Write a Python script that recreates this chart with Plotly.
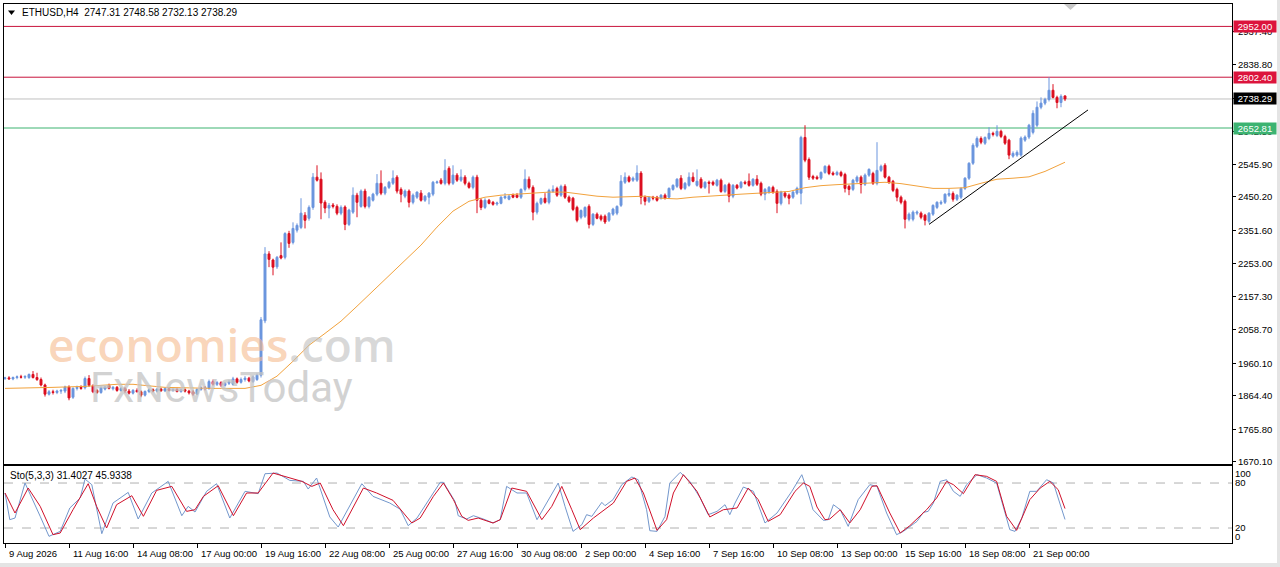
import plotly.graph_objects as go

# ---------------- data ----------------
bar_index = list(range(266))

opens = [
 1915, 1917, 1914, 1918, 1920, 1919, 1918, 1927, 1918, 1912,
 1896, 1869, 1876, 1874, 1878, 1878, 1890, 1860, 1886, 1889,
 1888, 1915, 1893, 1880, 1874, 1884, 1895, 1885, 1889, 1880,
 1886, 1878, 1872, 1880, 1876, 1866, 1877, 1882, 1878, 1884,
 1879, 1885, 1880, 1883, 1877, 1882, 1878, 1876, 1869, 1883,
 1888, 1886, 1906, 1898, 1903, 1895, 1901, 1898, 1914, 1904,
 1912, 1916, 1906, 1912, 1925, 2085, 2282, 2264, 2244, 2277,
 2272, 2342, 2316, 2352, 2360, 2396, 2387, 2419, 2508, 2502,
 2434, 2417, 2426, 2422, 2402, 2420, 2369, 2405, 2455, 2422,
 2467, 2422, 2440, 2458, 2490, 2461, 2478, 2490, 2508, 2472,
 2452, 2467, 2434, 2449, 2461, 2440, 2449, 2458, 2492, 2499,
 2490, 2534, 2490, 2514, 2499, 2508, 2490, 2478, 2508, 2440,
 2419, 2440, 2434, 2429, 2431, 2447, 2443, 2455, 2455, 2449,
 2472, 2502, 2478, 2405, 2431, 2446, 2434, 2466, 2475, 2455,
 2481, 2449, 2446, 2419, 2390, 2393, 2422, 2369, 2399, 2393,
 2393, 2381, 2399, 2402, 2425, 2493, 2508, 2499, 2499, 2520,
 2449, 2437, 2449, 2449, 2446, 2455, 2449, 2472, 2481, 2505,
 2475, 2484, 2508, 2484, 2502, 2478, 2493, 2493, 2484, 2499,
 2466, 2487, 2452, 2484, 2478, 2493, 2496, 2484, 2502, 2490,
 2458, 2464, 2478, 2466, 2431, 2461, 2455, 2449, 2461, 2461,
 2625, 2560, 2510, 2508, 2505, 2522, 2540, 2520, 2516, 2522,
 2516, 2481, 2472, 2496, 2508, 2487, 2514, 2519, 2490, 2528,
 2543, 2508, 2496, 2472, 2449, 2437, 2384, 2384, 2402, 2402,
 2396, 2378, 2399, 2419, 2431, 2434, 2455, 2460, 2443, 2449,
 2475, 2505, 2549, 2599, 2622, 2608, 2622, 2637, 2631, 2643,
 2628, 2617, 2570, 2573, 2573, 2617, 2626, 2640, 2661, 2714,
 2726, 2737, 2764, 2743, 2728, 2747.31]

highs = [
 1920, 1922, 1921, 1924, 1926, 1925, 1930, 1937, 1932, 1918,
 1900, 1881, 1882, 1882, 1884, 1894, 1895, 1889, 1894, 1895,
 1921, 1925, 1898, 1884, 1892, 1893, 1900, 1893, 1893, 1890,
 1890, 1884, 1884, 1886, 1880, 1880, 1886, 1886, 1886, 1888,
 1888, 1889, 1886, 1888, 1885, 1886, 1882, 1882, 1886, 1892,
 1893, 1912, 1912, 1908, 1907, 1905, 1910, 1920, 1918, 1918,
 1922, 1920, 1924, 1930, 2096, 2302, 2290, 2268, 2276, 2316,
 2346, 2350, 2375, 2372, 2446, 2405, 2425, 2520, 2543, 2522,
 2440, 2432, 2432, 2428, 2425, 2425, 2415, 2478, 2462, 2472,
 2474, 2452, 2462, 2517, 2528, 2482, 2497, 2528, 2514, 2478,
 2472, 2472, 2460, 2466, 2470, 2455, 2464, 2497, 2498, 2505,
 2561, 2540, 2543, 2520, 2531, 2514, 2495, 2513, 2515, 2446,
 2446, 2444, 2438, 2436, 2452, 2461, 2456, 2460, 2461, 2475,
 2531, 2510, 2484, 2436, 2448, 2461, 2474, 2484, 2480, 2486,
 2487, 2454, 2450, 2424, 2413, 2422, 2428, 2402, 2404, 2398,
 2398, 2405, 2418, 2425, 2514, 2522, 2513, 2510, 2543, 2526,
 2454, 2452, 2453, 2453, 2458, 2460, 2478, 2487, 2505, 2514,
 2494, 2522, 2522, 2531, 2508, 2496, 2498, 2498, 2503, 2504,
 2488, 2492, 2488, 2488, 2497, 2498, 2519, 2505, 2514, 2495,
 2476, 2482, 2483, 2472, 2468, 2466, 2460, 2468, 2480, 2630,
 2661, 2566, 2515, 2513, 2525, 2543, 2545, 2525, 2527, 2527,
 2521, 2486, 2503, 2513, 2513, 2519, 2534, 2524, 2611, 2545,
 2549, 2512, 2500, 2477, 2454, 2442, 2404, 2410, 2410, 2407,
 2400, 2405, 2428, 2437, 2440, 2460, 2475, 2466, 2458, 2478,
 2508, 2552, 2608, 2628, 2628, 2628, 2655, 2642, 2661, 2648,
 2633, 2621, 2584, 2587, 2628, 2631, 2665, 2705, 2731, 2743,
 2742, 2802, 2782, 2748, 2752, 2748.58]

lows = [
 1911, 1912, 1910, 1913, 1915, 1914, 1914, 1915, 1908, 1892,
 1862, 1865, 1868, 1869, 1870, 1872, 1851, 1855, 1880, 1882,
 1883, 1890, 1872, 1870, 1870, 1880, 1883, 1880, 1876, 1876,
 1872, 1868, 1868, 1874, 1860, 1862, 1872, 1874, 1874, 1876,
 1875, 1877, 1876, 1874, 1873, 1874, 1868, 1864, 1866, 1879,
 1880, 1882, 1894, 1893, 1890, 1891, 1896, 1894, 1900, 1900,
 1906, 1904, 1902, 1908, 1918, 2078, 2243, 2219, 2238, 2266,
 2266, 2300, 2310, 2345, 2355, 2357, 2380, 2412, 2495, 2384,
 2402, 2387, 2416, 2396, 2396, 2352, 2364, 2400, 2390, 2418,
 2416, 2416, 2436, 2452, 2455, 2455, 2473, 2485, 2460, 2434,
 2446, 2419, 2428, 2444, 2436, 2435, 2428, 2452, 2488, 2486,
 2484, 2484, 2485, 2494, 2494, 2484, 2474, 2472, 2402, 2411,
 2414, 2428, 2424, 2424, 2428, 2443, 2440, 2446, 2446, 2444,
 2466, 2472, 2381, 2398, 2426, 2430, 2428, 2462, 2450, 2450,
 2444, 2432, 2408, 2375, 2384, 2388, 2357, 2364, 2384, 2378,
 2370, 2376, 2394, 2396, 2420, 2488, 2492, 2494, 2494, 2428,
 2425, 2432, 2440, 2436, 2442, 2442, 2444, 2468, 2476, 2470,
 2470, 2480, 2493, 2480, 2474, 2473, 2460, 2482, 2480, 2462,
 2461, 2434, 2446, 2472, 2474, 2486, 2480, 2480, 2482, 2452,
 2440, 2459, 2459, 2402, 2425, 2446, 2428, 2444, 2456, 2428,
 2552, 2500, 2500, 2500, 2500, 2518, 2514, 2512, 2512, 2508,
 2463, 2455, 2467, 2491, 2460, 2482, 2509, 2485, 2484, 2523,
 2504, 2488, 2464, 2437, 2428, 2357, 2378, 2378, 2396, 2384,
 2366, 2372, 2394, 2414, 2426, 2429, 2450, 2436, 2438, 2444,
 2470, 2500, 2544, 2594, 2605, 2603, 2617, 2628, 2626, 2623,
 2603, 2561, 2565, 2568, 2568, 2612, 2620, 2634, 2655, 2708,
 2720, 2731, 2740, 2711, 2714, 2732.13]

closes = [
 1917, 1914, 1918, 1920, 1919, 1921, 1927, 1918, 1912, 1896,
 1869, 1876, 1874, 1878, 1880, 1890, 1858, 1886, 1889, 1886,
 1915, 1895, 1876, 1874, 1888, 1890, 1886, 1889, 1880, 1886,
 1878, 1872, 1880, 1876, 1866, 1877, 1882, 1878, 1884, 1879,
 1885, 1880, 1883, 1877, 1882, 1878, 1873, 1869, 1883, 1888,
 1885, 1906, 1898, 1903, 1895, 1901, 1905, 1914, 1904, 1912,
 1916, 1908, 1920, 1925, 2088, 2282, 2266, 2243, 2272, 2270,
 2342, 2313, 2357, 2366, 2402, 2381, 2419, 2508, 2499, 2432,
 2417, 2425, 2422, 2402, 2419, 2369, 2411, 2455, 2434, 2467,
 2422, 2449, 2458, 2490, 2461, 2478, 2493, 2505, 2467, 2458,
 2467, 2434, 2455, 2464, 2440, 2452, 2461, 2493, 2494, 2490,
 2528, 2490, 2514, 2499, 2508, 2490, 2478, 2508, 2440, 2419,
 2440, 2431, 2428, 2432, 2449, 2451, 2452, 2449, 2449, 2472,
 2502, 2478, 2405, 2431, 2445, 2434, 2469, 2472, 2455, 2481,
 2449, 2437, 2413, 2381, 2410, 2419, 2369, 2399, 2387, 2384,
 2376, 2402, 2414, 2422, 2496, 2508, 2496, 2505, 2520, 2449,
 2437, 2449, 2446, 2440, 2455, 2446, 2475, 2484, 2502, 2475,
 2490, 2508, 2496, 2496, 2478, 2493, 2490, 2487, 2499, 2466,
 2484, 2452, 2484, 2476, 2493, 2490, 2484, 2502, 2487, 2458,
 2472, 2478, 2464, 2431, 2464, 2452, 2446, 2464, 2475, 2625,
 2558, 2508, 2505, 2504, 2522, 2540, 2519, 2516, 2522, 2513,
 2475, 2472, 2499, 2508, 2487, 2514, 2531, 2490, 2528, 2540,
 2508, 2493, 2469, 2449, 2434, 2384, 2399, 2405, 2405, 2390,
 2381, 2402, 2425, 2434, 2434, 2458, 2460, 2443, 2455, 2475,
 2505, 2549, 2602, 2622, 2611, 2625, 2637, 2634, 2643, 2628,
 2608, 2573, 2578, 2581, 2623, 2626, 2661, 2696, 2714, 2726,
 2737, 2764, 2743, 2728, 2746, 2738.29]

# moving average (orange line) read at sampled bars
ma_bars = [0, 4, 8, 12, 16, 20, 24, 28, 32, 36, 40, 44, 48, 52, 56, 60, 64, 68, 72, 76,
           80, 84, 88, 92, 96, 100, 104, 108, 112, 116, 120, 124, 128, 132, 136, 140,
           144, 148, 152, 156, 160, 164, 168, 172, 176, 180, 184, 188, 192, 196, 200,
           204, 208, 212, 216, 220, 224, 228, 232, 236, 240, 244, 248, 252, 256, 260, 265]
ma_vals = [1886, 1886, 1888, 1889, 1890, 1892, 1895, 1898, 1898, 1894, 1889, 1888, 1886,
           1886, 1886, 1886, 1895, 1922, 1966, 2013, 2048, 2084, 2128, 2172, 2219, 2263,
           2308, 2361, 2408, 2437, 2449, 2455, 2458, 2461, 2464, 2464, 2458, 2452, 2449,
           2450, 2452, 2446, 2444, 2449, 2453, 2455, 2458, 2461, 2462, 2466, 2477, 2483,
           2486, 2489, 2492, 2493, 2489, 2481, 2475, 2475, 2477, 2490, 2502, 2505, 2509,
           2525, 2552]

# stochastic %K (main) and %D (signal)
k_bars = [0, 1.2, 2.5, 5, 8.8, 11, 13.8, 16.2, 18.8, 20, 21.7, 24.2, 27, 30.8, 33.3, 36.7,
          40.8, 44.2, 45.8, 47.5, 50.4, 52.9, 56.2, 60, 63.3, 65, 68, 71.2, 74.6, 75.8,
          77.9, 81.2, 83.3, 86.2, 89.2, 92, 96.2, 98.8, 100.8, 103, 105.8, 108.8, 109.6,
          112.5, 113.3, 115.4, 117.1, 119.6, 122, 123.8, 125.4, 128, 130.4, 133, 135.4,
          138.3, 140, 142, 144.2, 145.4, 146.7, 149.2, 150, 152, 154.2, 156.7, 158.3,
          160.4, 161.2, 163, 165, 166.2, 168.8, 171.2, 173.8, 175.8, 178, 180, 181.2,
          182.5, 184.6, 187.1, 190, 193, 196.7, 199.2, 200.8, 202, 204.6, 205.8, 207.1,
          208.8, 210.8, 213.3, 216.2, 218, 220.4, 222.9, 224.6, 228, 229.6, 230.8, 232.1,
          233.8, 235.4, 237.1, 238.8, 240.4, 243, 245.4, 247.9, 251.2, 252.5, 254.2,
          256.2, 257.9, 260.4, 262.1, 265]
k_vals = [66.7, 31.1, 33.3, 80, 35.6, 8.9, 15.5, 46.7, 60, 85.3, 77.8, 12.4, 53.3, 67.5,
          32, 66.7, 82.2, 36.4, 48.9, 41.3, 68.9, 79.1, 33.3, 68.9, 65.8, 92.4, 93.3, 83.5,
          82.2, 72, 86.7, 34.7, 21.3, 48.9, 79.1, 62.2, 53.3, 45, 23.1, 33.3, 55.5, 80.9,
          80.9, 55.5, 36.4, 32, 36.4, 32, 26.7, 31.1, 75.5, 66.7, 66.7, 31.1, 53.3, 80,
          48.9, 15.5, 24.4, 37.8, 35.5, 54.2, 49.8, 57.8, 77.8, 88, 84.4, 44.4, 16.4, 15.5,
          35.6, 80, 94.2, 82.2, 60, 37.8, 42.2, 51.1, 37.8, 53.3, 74.7, 68.9, 26.7, 40,
          68.9, 91.1, 66.7, 44.4, 30.2, 31.1, 51.1, 44.4, 22.2, 57.8, 77.8, 75.5, 40, 11.1,
          15.5, 28.9, 40.9, 42.2, 53.3, 82.2, 84.4, 68.9, 62.2, 77.8, 91.1, 86.7, 80, 17.8,
          15.5, 33.3, 68.9, 68.9, 84.4, 80, 31.4027]
d_bars = [0, 2.5, 5.8, 8.8, 12, 13.8, 17, 20.8, 22.9, 25.4, 27.9, 31.7, 34.6, 37.9, 41.7,
          45.4, 47.5, 49.6, 53.3, 57.1, 60.4, 63.3, 67, 71.2, 74.2, 76.7, 78.8, 82, 84.6,
          89.6, 92.9, 97, 101.7, 103.8, 107.1, 109.6, 112.1, 114.2, 115.8, 118.3, 122,
          123.8, 126.7, 130.4, 134.2, 136.7, 139.2, 141.7, 143.8, 147.1, 152.1, 155.4,
          157.5, 159.6, 163, 165.4, 167.1, 169.6, 173, 176.2, 179.6, 183, 185.8, 188.3,
          190.8, 193.8, 197.5, 199.6, 201.2, 203, 205, 206.2, 208.8, 211.2, 213.8, 216.7,
          218, 221.2, 223.8, 226.2, 230.4, 232.9, 235.4, 237.1, 239.6, 242.5, 245.4, 247.9,
          250.4, 252.9, 256.2, 258.8, 261.2, 263.3, 265]
d_vals = [66.7, 40, 73.3, 48.9, 11.1, 13.3, 44.4, 79.1, 48.9, 20, 51.1, 63.1, 35.6, 70.2,
          75.5, 42.2, 44.4, 62.2, 76.4, 36.4, 66.7, 66.7, 93.3, 86.7, 82.2, 75.5, 80, 44.4,
          23.1, 73.3, 66.7, 56.9, 26.7, 33.3, 62.2, 80, 57.8, 35.6, 30.2, 33.3, 26.7, 31.1,
          73.3, 68.9, 31.1, 48.9, 75.5, 44.4, 17.8, 33.3, 53.3, 82.2, 86.7, 66.7, 16.9,
          31.1, 66.7, 91.1, 68.9, 34.7, 44.4, 46.7, 73.3, 57.8, 28.9, 37.8, 68.9, 80, 75.5,
          48, 31.1, 32, 44.4, 26.7, 44.4, 75.5, 76.4, 40, 13.3, 23.1, 44.4, 60, 82.2, 77.8,
          65.8, 91.1, 88.9, 82.2, 35.6, 16.9, 57.8, 73.3, 82.2, 71.1, 45.9338]

# axis ticks
price_ticks = [2937.40, 2838.80, 2740.90, 2642.50, 2545.90, 2450.20, 2351.60, 2253.00,
               2157.30, 2058.70, 1960.10, 1864.40, 1765.80, 1670.10]
time_tick_bars = [0, 16, 32, 48, 64, 80, 96, 112, 128, 144, 160, 176, 192, 208, 224, 240, 256]
time_tick_labels = ["9 Aug 2026", "11 Aug 16:00", "14 Aug 08:00", "17 Aug 00:00",
                    "19 Aug 16:00", "22 Aug 08:00", "25 Aug 00:00", "27 Aug 16:00",
                    "30 Aug 08:00", "2 Sep 00:00", "4 Sep 16:00", "7 Sep 16:00",
                    "10 Sep 08:00", "13 Sep 00:00", "15 Sep 16:00", "18 Sep 08:00",
                    "21 Sep 00:00"]

# horizontal levels: (price, line colour, label background)
levels = [(2952.00, "#C8143C", "#DC143C"),
          (2802.40, "#C8143C", "#DC143C"),
          (2738.29, "#C0C0C0", "#000000"),
          (2652.81, "#3CB371", "#3CB371")]
trend_start = (231, 2369.0)
trend_end = (270.75, 2706.0)

# ---------------- figure ----------------
W, H = 1280, 567
ML, MR, MT, MB = 4, 48, 4, 24
PW = W - ML - MR
PH = H - MT - MB


def px2x(px):
    return (px - ML) / PW


def py2y(py):
    return (H - MB - py) / PH


FONT = "Liberation Sans, Arial, sans-serif"
BLUE = "#6B95DE"
RED = "#DC0F1F"

fig = go.Figure()
fig.add_trace(go.Candlestick(
    x=bar_index, open=opens, high=highs, low=lows, close=closes,
    increasing=dict(line=dict(color=BLUE, width=1), fillcolor=BLUE),
    decreasing=dict(line=dict(color=RED, width=1), fillcolor=RED),
    whiskerwidth=0, xaxis="x", yaxis="y", showlegend=False, hoverinfo="skip"))
fig.add_trace(go.Scatter(x=ma_bars, y=ma_vals, mode="lines",
                         line=dict(color="#F2A23C", width=1), xaxis="x", yaxis="y",
                         showlegend=False, hoverinfo="skip"))
fig.add_trace(go.Scatter(x=k_bars, y=k_vals, mode="lines",
                         line=dict(color="#7397CC", width=1), xaxis="x2", yaxis="y2",
                         showlegend=False, hoverinfo="skip"))
fig.add_trace(go.Scatter(x=d_bars, y=d_vals, mode="lines",
                         line=dict(color="#D0102A", width=1), xaxis="x2", yaxis="y2",
                         showlegend=False, hoverinfo="skip"))

main_bottom = py2y(464)
stoch_top = py2y(466)
xr = [-0.25, 306.75]

shapes = []
for price, lc, _ in levels:
    shapes.append(dict(type="line", xref="paper", x0=0, x1=1, yref="y", y0=price, y1=price,
                       line=dict(color=lc, width=1), layer="below"))
shapes.append(dict(type="line", xref="x", yref="y", x0=trend_start[0], y0=trend_start[1],
                   x1=trend_end[0], y1=trend_end[1], line=dict(color="black", width=1)))
for lv in (80, 20):
    shapes.append(dict(type="line", xref="paper", x0=0, x1=1, yref="y2", y0=lv, y1=lv,
                       line=dict(color="#B0B0B0", width=1, dash="dash"), layer="below"))
# header triangle and shift marker
shapes.append(dict(type="path", xref="paper", yref="paper",
                   path=f"M {px2x(8)} {py2y(10.5)} L {px2x(15)} {py2y(10.5)} L {px2x(11.5)} {py2y(15)} Z",
                   fillcolor="black", line=dict(width=0)))
shapes.append(dict(type="path", xref="paper", yref="paper",
                   path=f"M {px2x(1064)} {py2y(4)} L {px2x(1077)} {py2y(4)} L {px2x(1070.5)} {py2y(10)} Z",
                   fillcolor="#C8C8C8", line=dict(width=0)))
# window frame edges
shapes.append(dict(type="rect", xref="paper", yref="paper", x0=px2x(1277), x1=px2x(1281),
                   y0=py2y(567), y1=py2y(0), fillcolor="#E4E4E4", line=dict(width=0)))
shapes.append(dict(type="rect", xref="paper", yref="paper", x0=px2x(0), x1=px2x(1281),
                   y0=py2y(567), y1=py2y(563), fillcolor="#E4E4E4", line=dict(width=0)))

ann = []
ann.append(dict(xref="paper", yref="paper", x=px2x(20), y=py2y(12.7), xanchor="left",
                yanchor="middle", showarrow=False,
                text="ETHUSD,H4  2747.31 2748.58 2732.13 2738.29",
                font=dict(family=FONT, size=10, color="black")))
ann.append(dict(xref="paper", yref="paper", x=px2x(8), y=py2y(475), xanchor="left",
                yanchor="middle", showarrow=False, text="Sto(5,3,3) 31.4027 45.9338",
                font=dict(family=FONT, size=10, color="black")))
for price, _, bg in levels:
    ann.append(dict(xref="paper", yref="y", x=px2x(1233), y=price, xanchor="left",
                    yanchor="middle", showarrow=False, text=f"{price:.2f}",
                    bgcolor=bg, width=40, height=9, borderpad=1,
                    font=dict(family=FONT, size=9.5, color="white")))
for b, lab in zip(time_tick_bars, time_tick_labels):
    ann.append(dict(xref="x2", yref="paper", x=b + 0.4, y=py2y(553.3), xanchor="left",
                    yanchor="middle", showarrow=False, text=lab,
                    font=dict(family=FONT, size=9.5, color="black")))
# watermark
ann.append(dict(xref="paper", yref="paper", x=px2x(46), y=py2y(344), xanchor="left",
                yanchor="middle", showarrow=False,
                text="<span style='color:rgba(246,186,142,0.62)'>economies</span>"
                     "<span style='color:rgba(190,190,190,0.6)'>.com</span>",
                font=dict(family="Open Sans, sans-serif", size=46, weight=600)))
ann.append(dict(xref="paper", yref="paper", x=px2x(88), y=py2y(387), xanchor="left",
                yanchor="middle", showarrow=False, text="FxNewsToday",
                font=dict(family="Roboto, sans-serif", size=42,
                          color="rgba(196,196,196,0.75)")))

fig.update_layout(
    width=W, height=H, margin=dict(l=ML, r=MR, t=MT, b=MB, pad=0),
    paper_bgcolor="white", plot_bgcolor="white", showlegend=False,
    xaxis=dict(domain=[0, 1], range=xr, anchor="y", showgrid=False, zeroline=False,
               showticklabels=False, ticks="", showline=True, mirror=True,
               linecolor="black", linewidth=1, rangeslider=dict(visible=False),
               fixedrange=True),
    yaxis=dict(domain=[main_bottom, 1], range=[1663.33, 3018.0], side="right",
               tickvals=price_ticks, ticktext=[f"{v:.2f}" for v in price_ticks],
               ticks="outside", ticklen=3, tickcolor="black", showgrid=False,
               zeroline=False, showline=True, mirror=True, linecolor="black",
               linewidth=1, tickfont=dict(family=FONT, size=9.5, color="black"),
               fixedrange=True),
    xaxis2=dict(domain=[0, 1], range=xr, anchor="y2", showgrid=False, zeroline=False,
                showticklabels=False, tickvals=time_tick_bars, ticks="outside", ticklen=4,
                tickcolor="black", showline=True, mirror=True, linecolor="black",
                linewidth=1, fixedrange=True),
    yaxis2=dict(domain=[0, stoch_top], range=[0, 102.7], side="right",
                tickvals=[8.4, 20, 80, 92.4], ticktext=["0", "20", "80", "100"],
                ticks="", showgrid=False, zeroline=False, showline=True, mirror=True,
                linecolor="black", linewidth=1,
                tickfont=dict(family=FONT, size=9.5, color="black"), fixedrange=True),
    shapes=shapes, annotations=ann,
)

fig.write_html("out.html", config={"displayModeBar": False},
               post_script="document.body.style.margin='0px';")
